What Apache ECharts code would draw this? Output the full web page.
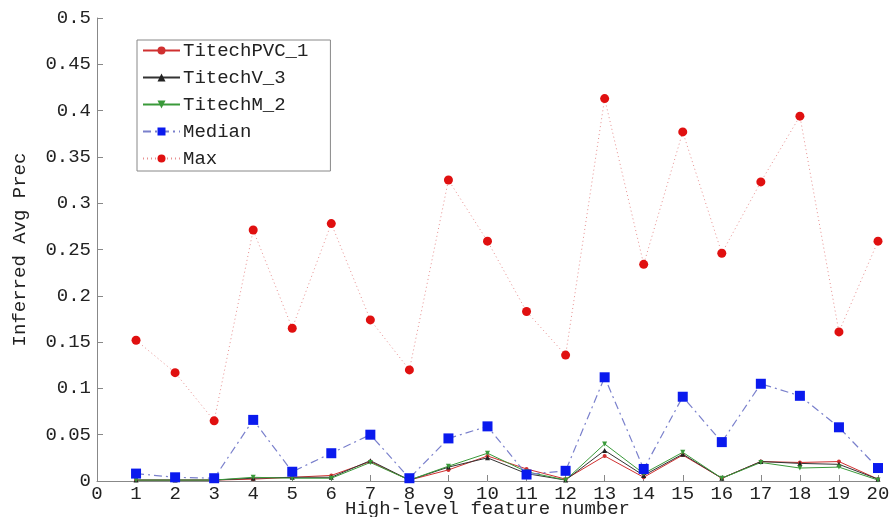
<!DOCTYPE html>
<html>
<head>
<meta charset="utf-8">
<script src="https://cdn.jsdelivr.net/npm/echarts@6/dist/echarts.min.js"></script>
<style>
  html, body { margin: 0; padding: 0; background: #fff; }
  #chart { width: 891px; height: 517px; }
</style>
</head>
<body>
<div id="chart"></div>
<script>
// feature numbers on the x axis
var features = [1, 2, 3, 4, 5, 6, 7, 8, 9, 10, 11, 12, 13, 14, 15, 16, 17, 18, 19, 20];

var titechPVC1 = [0.001, 0.001, 0.001, 0.002, 0.004, 0.006, 0.021, 0.001, 0.012, 0.027,
                  0.013, 0.002, 0.027, 0.004, 0.028, 0.003, 0.021, 0.020, 0.021, 0.002];
var titechV3   = [0.001, 0.001, 0.001, 0.003, 0.004, 0.004, 0.022, 0.001, 0.015, 0.025,
                  0.008, 0.001, 0.033, 0.006, 0.029, 0.003, 0.021, 0.019, 0.018, 0.002];
var titechM2   = [0.001, 0.001, 0.001, 0.004, 0.003, 0.003, 0.020, 0.001, 0.016, 0.030,
                  0.010, 0.001, 0.040, 0.008, 0.031, 0.003, 0.020, 0.014, 0.015, 0.001];
var median     = [0.008, 0.004, 0.003, 0.066, 0.010, 0.030, 0.050, 0.003, 0.046, 0.059,
                  0.007, 0.011, 0.112, 0.013, 0.091, 0.042, 0.105, 0.092, 0.058, 0.014];
var maxVals    = [0.152, 0.117, 0.065, 0.271, 0.165, 0.278, 0.174, 0.120, 0.325, 0.259,
                  0.183, 0.136, 0.413, 0.234, 0.377, 0.246, 0.323, 0.394, 0.161, 0.259];

function pairs(arr) {
    return features.map(function (f, i) { return [f, arr[i]]; });
}

var font = "'Liberation Mono', 'DejaVu Sans Mono', monospace";
var txt = '#222';

var chart = echarts.init(document.getElementById('chart'), null, { renderer: 'canvas' });

var option = {
    animation: false,
    backgroundColor: '#fff',
    grid: { left: 97, right: 13, top: 18, bottom: 36, containLabel: false, outerBoundsMode: 'none' },
    legend: {
        orient: 'vertical',
        left: 137,
        top: 40,
        itemWidth: 37,
        itemHeight: 10,
        itemGap: 8,
        padding: [1, 22, 3, 5],
        borderColor: '#888',
        borderWidth: 1,
        textStyle: { fontFamily: font, fontSize: 19, lineHeight: 19, color: txt, padding: [0, 0, 0, -2] },
        data: ['TitechPVC_1', 'TitechV_3', 'TitechM_2', 'Median', 'Max']
    },
    xAxis: {
        type: 'value',
        min: 0,
        max: 20,
        interval: 1,
        name: 'High-level feature number',
        nameLocation: 'middle',
        nameGap: 18,
        nameMoveOverlap: false,
        nameTextStyle: { fontFamily: font, fontSize: 19, color: txt },
        axisLine: { lineStyle: { color: '#888' } },
        axisTick: { inside: true, length: 6, lineStyle: { color: '#888' } },
        axisLabel: { fontFamily: font, fontSize: 19, color: txt, margin: 3 },
        splitLine: { show: false }
    },
    yAxis: {
        type: 'value',
        min: 0,
        max: 0.5,
        interval: 0.05,
        name: 'Inferred Avg Prec',
        nameLocation: 'middle',
        nameGap: 68,
        nameMoveOverlap: false,
        nameTextStyle: { fontFamily: font, fontSize: 19, color: txt },
        axisLine: { show: true, lineStyle: { color: '#888' } },
        axisTick: { show: true, inside: true, length: 6, lineStyle: { color: '#888' } },
        axisLabel: {
            fontFamily: font, fontSize: 19, color: txt, margin: 6,
            formatter: function (v) { return v === 0 ? '0' : String(+v.toFixed(2)); }
        },
        splitLine: { show: false }
    },
    series: [
        {
            name: 'TitechPVC_1', type: 'line', data: pairs(titechPVC1),
            symbol: 'circle', symbolSize: 4,
            itemStyle: { color: '#d03030' },
            lineStyle: { color: '#d03030', width: 1 }
        },
        {
            name: 'TitechV_3', type: 'line', data: pairs(titechV3),
            symbol: 'triangle', symbolSize: 5,
            itemStyle: { color: '#222' },
            lineStyle: { color: '#333', width: 1 }
        },
        {
            name: 'TitechM_2', type: 'line', data: pairs(titechM2),
            symbol: 'triangle', symbolRotate: 180, symbolSize: 5,
            itemStyle: { color: '#3a9a3a' },
            lineStyle: { color: '#3a9a3a', width: 1 }
        },
        {
            name: 'Median', type: 'line', data: pairs(median),
            symbol: 'rect', symbolSize: 10,
            itemStyle: { color: '#0a1aee' },
            lineStyle: { color: '#7a80cc', width: 1.2, type: [8, 4, 2, 4] }
        },
        {
            name: 'Max', type: 'line', data: pairs(maxVals),
            symbol: 'circle', symbolSize: 9,
            itemStyle: { color: '#e01010' },
            lineStyle: { color: '#e89090', width: 1, type: [1, 3] }
        }
    ]
};

chart.setOption(option);
</script>
</body>
</html>
